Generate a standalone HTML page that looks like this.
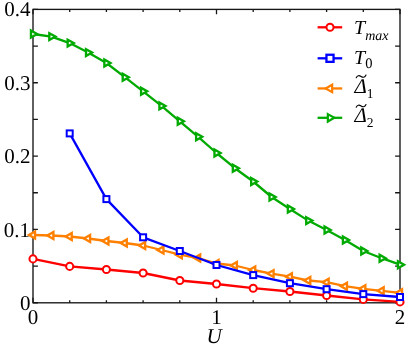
<!DOCTYPE html>
<html><head><meta charset="utf-8"><title>chart</title>
<style>html,body{margin:0;padding:0;background:#fff;}svg{display:block;font-family:"Liberation Serif",serif;}</style>
</head><body>
<svg width="409" height="352" viewBox="0 0 409 352" style="will-change:transform">
<rect width="409" height="352" fill="#ffffff"/>
<rect x="33.0" y="9.4" width="367.0" height="293.4" fill="none" stroke="#161616" stroke-width="1.35"/>
<path d="M33.00 302.75V297.85M33.00 9.40V14.30M69.70 302.75V300.15M69.70 9.40V12.00M106.40 302.75V300.15M106.40 9.40V12.00M143.10 302.75V300.15M143.10 9.40V12.00M179.80 302.75V300.15M179.80 9.40V12.00M216.50 302.75V297.85M216.50 9.40V14.30M253.20 302.75V300.15M253.20 9.40V12.00M289.90 302.75V300.15M289.90 9.40V12.00M326.60 302.75V300.15M326.60 9.40V12.00M363.30 302.75V300.15M363.30 9.40V12.00M400.00 302.75V297.85M400.00 9.40V14.30M33.00 302.75H37.90M400.00 302.75H395.10M33.00 266.08H37.90M400.00 266.08H395.10M33.00 229.41H37.90M400.00 229.41H395.10M33.00 192.74H37.90M400.00 192.74H395.10M33.00 156.07H37.90M400.00 156.07H395.10M33.00 119.41H37.90M400.00 119.41H395.10M33.00 82.74H37.90M400.00 82.74H395.10M33.00 46.07H37.90M400.00 46.07H395.10M33.00 9.40H37.90M400.00 9.40H395.10" stroke="#161616" stroke-width="1.3" fill="none"/>
<polyline fill="none" stroke="#ff0000" stroke-width="2.30" stroke-linejoin="round" points="33.0,258.9 69.7,266.4 106.4,269.5 143.1,273.0 179.8,280.5 216.5,284.0 253.2,288.2 289.9,291.5 326.6,295.5 363.3,299.4 400.0,301.9"/>
<circle cx="33.00" cy="258.90" r="3.55" fill="#fff" stroke="#ff0000" stroke-width="2.0"/>
<circle cx="69.70" cy="266.40" r="3.55" fill="#fff" stroke="#ff0000" stroke-width="2.0"/>
<circle cx="106.40" cy="269.50" r="3.55" fill="#fff" stroke="#ff0000" stroke-width="2.0"/>
<circle cx="143.10" cy="273.00" r="3.55" fill="#fff" stroke="#ff0000" stroke-width="2.0"/>
<circle cx="179.80" cy="280.50" r="3.55" fill="#fff" stroke="#ff0000" stroke-width="2.0"/>
<circle cx="216.50" cy="284.00" r="3.55" fill="#fff" stroke="#ff0000" stroke-width="2.0"/>
<circle cx="253.20" cy="288.20" r="3.55" fill="#fff" stroke="#ff0000" stroke-width="2.0"/>
<circle cx="289.90" cy="291.50" r="3.55" fill="#fff" stroke="#ff0000" stroke-width="2.0"/>
<circle cx="326.60" cy="295.50" r="3.55" fill="#fff" stroke="#ff0000" stroke-width="2.0"/>
<circle cx="363.30" cy="299.40" r="3.55" fill="#fff" stroke="#ff0000" stroke-width="2.0"/>
<circle cx="400.00" cy="301.90" r="3.55" fill="#fff" stroke="#ff0000" stroke-width="2.0"/>
<polyline fill="none" stroke="#ff8000" stroke-width="2.30" stroke-linejoin="round" points="33.0,235.0 51.4,235.5 69.7,236.5 88.1,238.5 106.4,241.0 124.8,243.0 143.1,245.5 161.5,250.0 179.8,254.7 198.2,258.0 216.5,263.5 234.9,265.5 253.2,270.0 271.6,273.6 289.9,276.7 308.2,280.5 326.6,282.2 345.0,286.2 363.3,288.8 381.7,290.8 400.0,292.8"/>
<path d="M35.03 231.55L28.96 235.00L35.03 238.45Z" fill="#fff" stroke="#ff8000" stroke-width="2.35" stroke-linejoin="miter"/>
<path d="M53.38 232.05L47.31 235.50L53.38 238.95Z" fill="#fff" stroke="#ff8000" stroke-width="2.35" stroke-linejoin="miter"/>
<path d="M71.73 233.05L65.66 236.50L71.73 239.95Z" fill="#fff" stroke="#ff8000" stroke-width="2.35" stroke-linejoin="miter"/>
<path d="M90.08 235.05L84.01 238.50L90.08 241.95Z" fill="#fff" stroke="#ff8000" stroke-width="2.35" stroke-linejoin="miter"/>
<path d="M108.43 237.55L102.36 241.00L108.43 244.45Z" fill="#fff" stroke="#ff8000" stroke-width="2.35" stroke-linejoin="miter"/>
<path d="M126.78 239.55L120.71 243.00L126.78 246.45Z" fill="#fff" stroke="#ff8000" stroke-width="2.35" stroke-linejoin="miter"/>
<path d="M145.13 242.05L139.06 245.50L145.13 248.95Z" fill="#fff" stroke="#ff8000" stroke-width="2.35" stroke-linejoin="miter"/>
<path d="M163.48 246.55L157.41 250.00L163.48 253.45Z" fill="#fff" stroke="#ff8000" stroke-width="2.35" stroke-linejoin="miter"/>
<path d="M181.83 251.25L175.76 254.70L181.83 258.15Z" fill="#fff" stroke="#ff8000" stroke-width="2.35" stroke-linejoin="miter"/>
<path d="M200.18 254.55L194.11 258.00L200.18 261.45Z" fill="#fff" stroke="#ff8000" stroke-width="2.35" stroke-linejoin="miter"/>
<path d="M218.53 260.05L212.46 263.50L218.53 266.95Z" fill="#fff" stroke="#ff8000" stroke-width="2.35" stroke-linejoin="miter"/>
<path d="M236.88 262.05L230.81 265.50L236.88 268.95Z" fill="#fff" stroke="#ff8000" stroke-width="2.35" stroke-linejoin="miter"/>
<path d="M255.23 266.55L249.16 270.00L255.23 273.45Z" fill="#fff" stroke="#ff8000" stroke-width="2.35" stroke-linejoin="miter"/>
<path d="M273.58 270.15L267.51 273.60L273.58 277.05Z" fill="#fff" stroke="#ff8000" stroke-width="2.35" stroke-linejoin="miter"/>
<path d="M291.93 273.25L285.86 276.70L291.93 280.15Z" fill="#fff" stroke="#ff8000" stroke-width="2.35" stroke-linejoin="miter"/>
<path d="M310.28 277.05L304.21 280.50L310.28 283.95Z" fill="#fff" stroke="#ff8000" stroke-width="2.35" stroke-linejoin="miter"/>
<path d="M328.63 278.75L322.56 282.20L328.63 285.65Z" fill="#fff" stroke="#ff8000" stroke-width="2.35" stroke-linejoin="miter"/>
<path d="M346.98 282.75L340.91 286.20L346.98 289.65Z" fill="#fff" stroke="#ff8000" stroke-width="2.35" stroke-linejoin="miter"/>
<path d="M365.33 285.35L359.26 288.80L365.33 292.25Z" fill="#fff" stroke="#ff8000" stroke-width="2.35" stroke-linejoin="miter"/>
<path d="M383.68 287.35L377.61 290.80L383.68 294.25Z" fill="#fff" stroke="#ff8000" stroke-width="2.35" stroke-linejoin="miter"/>
<path d="M402.03 289.35L395.96 292.80L402.03 296.25Z" fill="#fff" stroke="#ff8000" stroke-width="2.35" stroke-linejoin="miter"/>
<polyline fill="none" stroke="#0000ff" stroke-width="2.30" stroke-linejoin="round" points="69.7,133.4 106.4,199.1 143.1,237.3 179.8,251.0 216.5,265.0 253.2,275.1 289.9,283.2 326.6,289.2 363.3,294.1 400.0,297.0"/>
<rect x="66.70" y="130.40" width="6.00" height="6.00" fill="#fff" stroke="#0000ff" stroke-width="2.00"/>
<rect x="103.40" y="196.10" width="6.00" height="6.00" fill="#fff" stroke="#0000ff" stroke-width="2.00"/>
<rect x="140.10" y="234.30" width="6.00" height="6.00" fill="#fff" stroke="#0000ff" stroke-width="2.00"/>
<rect x="176.80" y="248.00" width="6.00" height="6.00" fill="#fff" stroke="#0000ff" stroke-width="2.00"/>
<rect x="213.50" y="262.00" width="6.00" height="6.00" fill="#fff" stroke="#0000ff" stroke-width="2.00"/>
<rect x="250.20" y="272.10" width="6.00" height="6.00" fill="#fff" stroke="#0000ff" stroke-width="2.00"/>
<rect x="286.90" y="280.20" width="6.00" height="6.00" fill="#fff" stroke="#0000ff" stroke-width="2.00"/>
<rect x="323.60" y="286.20" width="6.00" height="6.00" fill="#fff" stroke="#0000ff" stroke-width="2.00"/>
<rect x="360.30" y="291.10" width="6.00" height="6.00" fill="#fff" stroke="#0000ff" stroke-width="2.00"/>
<rect x="397.00" y="294.00" width="6.00" height="6.00" fill="#fff" stroke="#0000ff" stroke-width="2.00"/>
<polyline fill="none" stroke="#00aa00" stroke-width="2.30" stroke-linejoin="round" points="33.0,34.0 51.4,36.6 69.7,43.1 88.1,52.6 106.4,63.0 124.8,77.2 143.1,91.3 161.5,105.9 179.8,121.3 198.2,136.8 216.5,153.0 234.9,168.2 253.2,181.5 271.6,197.0 289.9,209.0 308.2,220.6 326.6,230.0 345.0,240.0 363.3,251.0 381.7,258.2 400.0,264.7"/>
<path d="M30.97 30.55L37.04 34.00L30.97 37.45Z" fill="#fff" stroke="#00aa00" stroke-width="2.35" stroke-linejoin="miter"/>
<path d="M49.32 33.15L55.39 36.60L49.32 40.05Z" fill="#fff" stroke="#00aa00" stroke-width="2.35" stroke-linejoin="miter"/>
<path d="M67.67 39.65L73.74 43.10L67.67 46.55Z" fill="#fff" stroke="#00aa00" stroke-width="2.35" stroke-linejoin="miter"/>
<path d="M86.02 49.15L92.09 52.60L86.02 56.05Z" fill="#fff" stroke="#00aa00" stroke-width="2.35" stroke-linejoin="miter"/>
<path d="M104.37 59.55L110.44 63.00L104.37 66.45Z" fill="#fff" stroke="#00aa00" stroke-width="2.35" stroke-linejoin="miter"/>
<path d="M122.72 73.75L128.79 77.20L122.72 80.65Z" fill="#fff" stroke="#00aa00" stroke-width="2.35" stroke-linejoin="miter"/>
<path d="M141.07 87.85L147.14 91.30L141.07 94.75Z" fill="#fff" stroke="#00aa00" stroke-width="2.35" stroke-linejoin="miter"/>
<path d="M159.42 102.45L165.49 105.90L159.42 109.35Z" fill="#fff" stroke="#00aa00" stroke-width="2.35" stroke-linejoin="miter"/>
<path d="M177.77 117.85L183.84 121.30L177.77 124.75Z" fill="#fff" stroke="#00aa00" stroke-width="2.35" stroke-linejoin="miter"/>
<path d="M196.12 133.35L202.19 136.80L196.12 140.25Z" fill="#fff" stroke="#00aa00" stroke-width="2.35" stroke-linejoin="miter"/>
<path d="M214.47 149.55L220.54 153.00L214.47 156.45Z" fill="#fff" stroke="#00aa00" stroke-width="2.35" stroke-linejoin="miter"/>
<path d="M232.82 164.75L238.89 168.20L232.82 171.65Z" fill="#fff" stroke="#00aa00" stroke-width="2.35" stroke-linejoin="miter"/>
<path d="M251.17 178.05L257.24 181.50L251.17 184.95Z" fill="#fff" stroke="#00aa00" stroke-width="2.35" stroke-linejoin="miter"/>
<path d="M269.52 193.55L275.59 197.00L269.52 200.45Z" fill="#fff" stroke="#00aa00" stroke-width="2.35" stroke-linejoin="miter"/>
<path d="M287.87 205.55L293.94 209.00L287.87 212.45Z" fill="#fff" stroke="#00aa00" stroke-width="2.35" stroke-linejoin="miter"/>
<path d="M306.22 217.15L312.29 220.60L306.22 224.05Z" fill="#fff" stroke="#00aa00" stroke-width="2.35" stroke-linejoin="miter"/>
<path d="M324.57 226.55L330.64 230.00L324.57 233.45Z" fill="#fff" stroke="#00aa00" stroke-width="2.35" stroke-linejoin="miter"/>
<path d="M342.92 236.55L348.99 240.00L342.92 243.45Z" fill="#fff" stroke="#00aa00" stroke-width="2.35" stroke-linejoin="miter"/>
<path d="M361.27 247.55L367.34 251.00L361.27 254.45Z" fill="#fff" stroke="#00aa00" stroke-width="2.35" stroke-linejoin="miter"/>
<path d="M379.62 254.75L385.69 258.20L379.62 261.65Z" fill="#fff" stroke="#00aa00" stroke-width="2.35" stroke-linejoin="miter"/>
<path d="M397.97 261.25L404.04 264.70L397.97 268.15Z" fill="#fff" stroke="#00aa00" stroke-width="2.35" stroke-linejoin="miter"/>
<path d="M317.6 27.3H342.2" stroke="#ff0000" stroke-width="2.30"/>
<circle cx="330.00" cy="27.30" r="3.55" fill="#fff" stroke="#ff0000" stroke-width="2.0"/>
<path d="M317.6 58.3H342.2" stroke="#0000ff" stroke-width="2.30"/>
<rect x="326.45" y="54.75" width="7.10" height="7.10" fill="#fff" stroke="#0000ff" stroke-width="2.30"/>
<path d="M317.6 88.45H342.2" stroke="#ff8000" stroke-width="2.30"/>
<path d="M332.15 84.75L325.70 88.45L332.15 92.15Z" fill="#fff" stroke="#ff8000" stroke-width="2.20" stroke-linejoin="miter"/>
<path d="M317.6 117.8H342.2" stroke="#00aa00" stroke-width="2.30"/>
<path d="M327.85 114.10L334.30 117.80L327.85 121.50Z" fill="#fff" stroke="#00aa00" stroke-width="2.20" stroke-linejoin="miter"/>
<path d="M356.20 77.70c1.1,-2.5 3.0,-2.5 4.9,-1.2s3.7,1.2 4.9,-1.4" fill="none" stroke="#000" stroke-width="1.1" stroke-linecap="round"/>
<path d="M356.20 107.20c1.1,-2.5 3.0,-2.5 4.9,-1.2s3.7,1.2 4.9,-1.4" fill="none" stroke="#000" stroke-width="1.1" stroke-linecap="round"/>
<g font-family="'Liberation Serif', serif" fill="#000" text-rendering="geometricPrecision"><text x="30.6" y="310.0" font-size="21" text-anchor="end" >0</text><text x="29.9" y="237.0" font-size="21" text-anchor="end" >0.1</text><text x="30.6" y="163.0" font-size="21" text-anchor="end" >0.2</text><text x="30.6" y="90.0" font-size="21" text-anchor="end" >0.3</text><text x="30.6" y="16.0" font-size="21" text-anchor="end" >0.4</text><text x="33.0" y="324.0" font-size="21" text-anchor="middle" >0</text><text x="216.5" y="324.0" font-size="21" text-anchor="middle" >1</text><text x="400.0" y="324.0" font-size="21" text-anchor="middle" >2</text><text x="214.2" y="343.4" font-size="21.2" text-anchor="middle" font-style="italic">U</text><text x="354" y="34" font-size="20" font-style="italic">T<tspan font-size="14" dy="5.5">max</tspan></text><text x="354" y="63.8" font-size="20"><tspan font-style="italic">T</tspan><tspan font-size="14.5" dy="4.6">0</tspan></text><text x="354.4" y="92.8" font-size="21"><tspan font-style="italic">Δ</tspan><tspan font-size="13.5" dy="5.0">1</tspan></text><text x="354.4" y="122.3" font-size="21"><tspan font-style="italic">Δ</tspan><tspan font-size="13.5" dy="5.0">2</tspan></text></g>
</svg>
</body></html>
